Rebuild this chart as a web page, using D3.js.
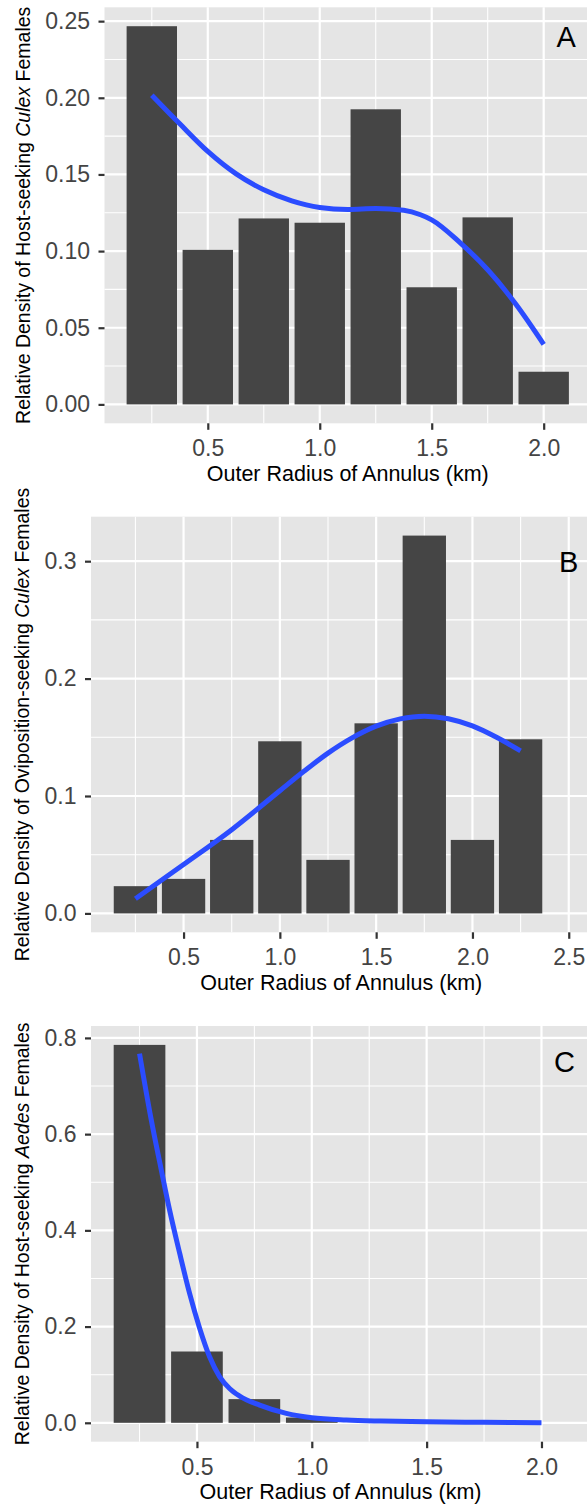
<!DOCTYPE html>
<html>
<head>
<meta charset="utf-8">
<script src="https://cdn.jsdelivr.net/npm/d3@7"></script>
<style>
  html, body { margin: 0; padding: 0; background: #ffffff; }
  svg { display: block; font-family: "Liberation Sans", Arial, Helvetica, sans-serif; }
</style>
</head>
<body>
<svg id="chart" width="587" height="1504"></svg>
<script>
// ---------------- DATA ----------------
// Panel A: host-seeking Culex
const radiusA = [0.25, 0.5, 0.75, 1.0, 1.25, 1.5, 1.75, 2.0];
const densityA = [0.2467, 0.1008, 0.1213, 0.1185, 0.1925, 0.0764, 0.1220, 0.0213];
const smoothXA = [0.25, 0.375, 0.5, 0.625, 0.75, 0.875, 1.0, 1.125, 1.25, 1.375, 1.45, 1.5, 1.625, 1.75, 1.875, 2.0];
const smoothYA = [0.2017, 0.1830, 0.1650, 0.1505, 0.1400, 0.1328, 0.1285, 0.1272, 0.1278, 0.1266, 0.1237, 0.1204, 0.1057, 0.0878, 0.0655, 0.0392];
const xTicksA = [0.5, 1.0, 1.5, 2.0];
const yTicksA = [0.00, 0.05, 0.10, 0.15, 0.20, 0.25];

// Panel B: oviposition-seeking Culex
const radiusB = [0.25, 0.5, 0.75, 1.0, 1.25, 1.5, 1.75, 2.0, 2.25];
const densityB = [0.0232, 0.0294, 0.0626, 0.1466, 0.0456, 0.1619, 0.3218, 0.0626, 0.1483];
const smoothXB = [0.25, 0.5, 0.75, 1.0, 1.125, 1.25, 1.375, 1.5, 1.625, 1.75, 1.875, 2.0, 2.125, 2.25];
const smoothYB = [0.0125, 0.0416, 0.0713, 0.1045, 0.1210, 0.1365, 0.1495, 0.1595, 0.1657, 0.1680, 0.1658, 0.1597, 0.1500, 0.1384];
const xTicksB = [0.5, 1.0, 1.5, 2.0, 2.5];
const yTicksB = [0.0, 0.1, 0.2, 0.3];

// Panel C: host-seeking Aedes
const radiusC = [0.25, 0.5, 0.75, 1.0, 1.25, 1.5, 1.75, 2.0];
const densityC = [0.7855, 0.1482, 0.0492, 0.0110, 0, 0, 0, 0];
const smoothXC = [0.25, 0.30, 0.345, 0.381, 0.425, 0.468, 0.512, 0.555, 0.599, 0.642, 0.686, 0.773, 0.889, 1.0, 1.15, 1.3, 1.5, 1.75, 2.0];
const smoothYC = [0.7675, 0.6325, 0.5251, 0.4420, 0.3520, 0.2689, 0.1961, 0.1372, 0.0956, 0.0714, 0.0555, 0.0368, 0.0195, 0.0104, 0.0056, 0.0035, 0.0020, 0.0010, 0.0];
const xTicksC = [0.5, 1.0, 1.5, 2.0];
const yTicksC = [0.0, 0.2, 0.4, 0.6, 0.8];

// Panel tags and their data positions
const panelTags = ["A", "B", "C"];
const tagX = [2.1, 2.5, 2.1];
const tagY = [0.24, 0.30, 0.75];

// Axis titles
const xTitle = "Outer Radius of Annulus (km)";
const yTitlesPre = ["Relative Density of Host-seeking ", "Relative Density of Oviposition-seeking ", "Relative Density of Host-seeking "];
const yTitlesGenus = ["Culex", "Culex", "Aedes"];
const yTitlesPost = [" Females", " Females", " Females"];

// ---------------- LAYOUT / STYLE ----------------
const layout = [
  { left: 104.5, top: 7.3, right: 591, bottom: 423.3, yTitleX: 29.5, yFmt: ".2f" },
  { left: 91, top: 516.7, right: 591.5, bottom: 932.3, yTitleX: 29, yFmt: ".1f" },
  { left: 91, top: 1026, right: 590, bottom: 1441.7, yTitleX: 29, yFmt: ".1f" }
];
const BAR_W = 0.225;
const COL_PANEL = "#E5E5E5";
const COL_BAR = "#454545";
const COL_LINE = "#2B4CFF";
const COL_TICKTEXT = "#444444";

const svg = d3.select("#chart");
svg.append("rect").attr("width", 587).attr("height", 1504).attr("fill", "#fff");

const panels = [
  { radius: radiusA, dens: densityA, sx: smoothXA, sy: smoothYA, xt: xTicksA, yt: yTicksA },
  { radius: radiusB, dens: densityB, sx: smoothXB, sy: smoothYB, xt: xTicksB, yt: yTicksB },
  { radius: radiusC, dens: densityC, sx: smoothXC, sy: smoothYC, xt: xTicksC, yt: yTicksC }
];

function minorBetween(ticks, lo, hi) {
  const step = ticks[1] - ticks[0];
  const out = [];
  const first = ticks[0] - step;
  for (let i = 0; i <= ticks.length; i++) {
    const m = first + step * i + step / 2;
    if (m > lo && m < hi) out.push(+m.toFixed(6));
  }
  return out;
}

panels.forEach((p, i) => {
  const L = layout[i];
  // ggplot-like limits with 5% expansion
  let xmin = d3.min(p.radius) - BAR_W / 2;
  let xmax = Math.max(d3.max(p.radius) + BAR_W / 2, tagX[i]);
  const xr = xmax - xmin;
  let ymin = 0;
  let ymax = Math.max(d3.max(p.dens), tagY[i], d3.max(p.sy));
  const yr = ymax - ymin;
  const xs = d3.scaleLinear().domain([xmin - 0.05 * xr, xmax + 0.05 * xr]).range([L.left, L.right]);
  const ys = d3.scaleLinear().domain([ymin - 0.05 * yr, ymax + 0.05 * yr]).range([L.bottom, L.top]);

  const g = svg.append("g");
  g.append("rect")
    .attr("x", L.left).attr("y", L.top)
    .attr("width", L.right - L.left).attr("height", L.bottom - L.top)
    .attr("fill", COL_PANEL);

  const xd = xs.domain(), yd = ys.domain();
  const xMinor = minorBetween(p.xt, xd[0], xd[1]);
  const yMinor = minorBetween(p.yt, yd[0], yd[1]);

  // minor grid
  g.selectAll(".vmin").data(xMinor).join("line")
    .attr("x1", d => xs(d)).attr("x2", d => xs(d))
    .attr("y1", L.top).attr("y2", L.bottom)
    .attr("stroke", "#fff").attr("stroke-width", 1.1);
  g.selectAll(".hmin").data(yMinor).join("line")
    .attr("y1", d => ys(d)).attr("y2", d => ys(d))
    .attr("x1", L.left).attr("x2", L.right)
    .attr("stroke", "#fff").attr("stroke-width", 1.1);
  // major grid
  g.selectAll(".vmaj").data(p.xt).join("line")
    .attr("x1", d => xs(d)).attr("x2", d => xs(d))
    .attr("y1", L.top).attr("y2", L.bottom)
    .attr("stroke", "#fff").attr("stroke-width", 2.2);
  g.selectAll(".hmaj").data(p.yt).join("line")
    .attr("y1", d => ys(d)).attr("y2", d => ys(d))
    .attr("x1", L.left).attr("x2", L.right)
    .attr("stroke", "#fff").attr("stroke-width", 2.2);

  // bars
  g.selectAll(".bar").data(p.radius.map((r, k) => ({ r, v: p.dens[k] }))).join("rect")
    .attr("x", d => xs(d.r - BAR_W / 2))
    .attr("width", d => xs(d.r + BAR_W / 2) - xs(d.r - BAR_W / 2))
    .attr("y", d => ys(d.v))
    .attr("height", d => ys(0) - ys(d.v))
    .attr("fill", COL_BAR);

  // smooth line
  const pts = p.sx.map((x, k) => [x, p.sy[k]]);
  g.append("path")
    .attr("d", d3.line().x(d => xs(d[0])).y(d => ys(d[1])).curve(d3.curveMonotoneX)(pts))
    .attr("fill", "none")
    .attr("stroke", COL_LINE)
    .attr("stroke-width", 5);

  // panel tag
  g.append("text")
    .attr("x", xs(tagX[i])).attr("y", ys(tagY[i]))
    .attr("dy", "0.36em")
    .attr("text-anchor", "middle")
    .attr("font-size", 29)
    .attr("fill", "#000")
    .text(panelTags[i]);

  // axes
  const yAxis = d3.axisLeft(ys).tickValues(p.yt).tickSize(6).tickPadding(8.5).tickFormat(d3.format(L.yFmt));
  const ya = svg.append("g").attr("transform", `translate(${L.left},0)`).call(yAxis);
  const xAxis = d3.axisBottom(xs).tickValues(p.xt).tickSize(6.5).tickPadding(10).tickFormat(d3.format(".1f"));
  const xa = svg.append("g").attr("transform", `translate(0,${L.bottom})`).call(xAxis);
  [ya, xa].forEach(a => {
    a.select(".domain").remove();
    a.selectAll(".tick line").attr("stroke", "#333").attr("stroke-width", 2.2);
    a.selectAll(".tick text").attr("font-size", 23).attr("fill", COL_TICKTEXT)
      .attr("font-family", "\"Liberation Sans\", Arial, sans-serif");
  });

  // x title
  svg.append("text")
    .attr("x", (L.left + L.right) / 2)
    .attr("y", L.bottom + 57.5)
    .attr("text-anchor", "middle")
    .attr("font-size", 21.5)
    .attr("fill", "#000")
    .text(xTitle);

  // y title
  const yt = svg.append("text")
    .attr("transform", `translate(${L.yTitleX},${(L.top + L.bottom) / 2}) rotate(-90)`)
    .attr("text-anchor", "middle")
    .attr("font-size", 19.5)
    .attr("fill", "#000");
  yt.append("tspan").text(yTitlesPre[i]);
  yt.append("tspan").attr("font-style", "italic").text(yTitlesGenus[i]);
  yt.append("tspan").text(yTitlesPost[i]);
});
</script>
</body>
</html>
